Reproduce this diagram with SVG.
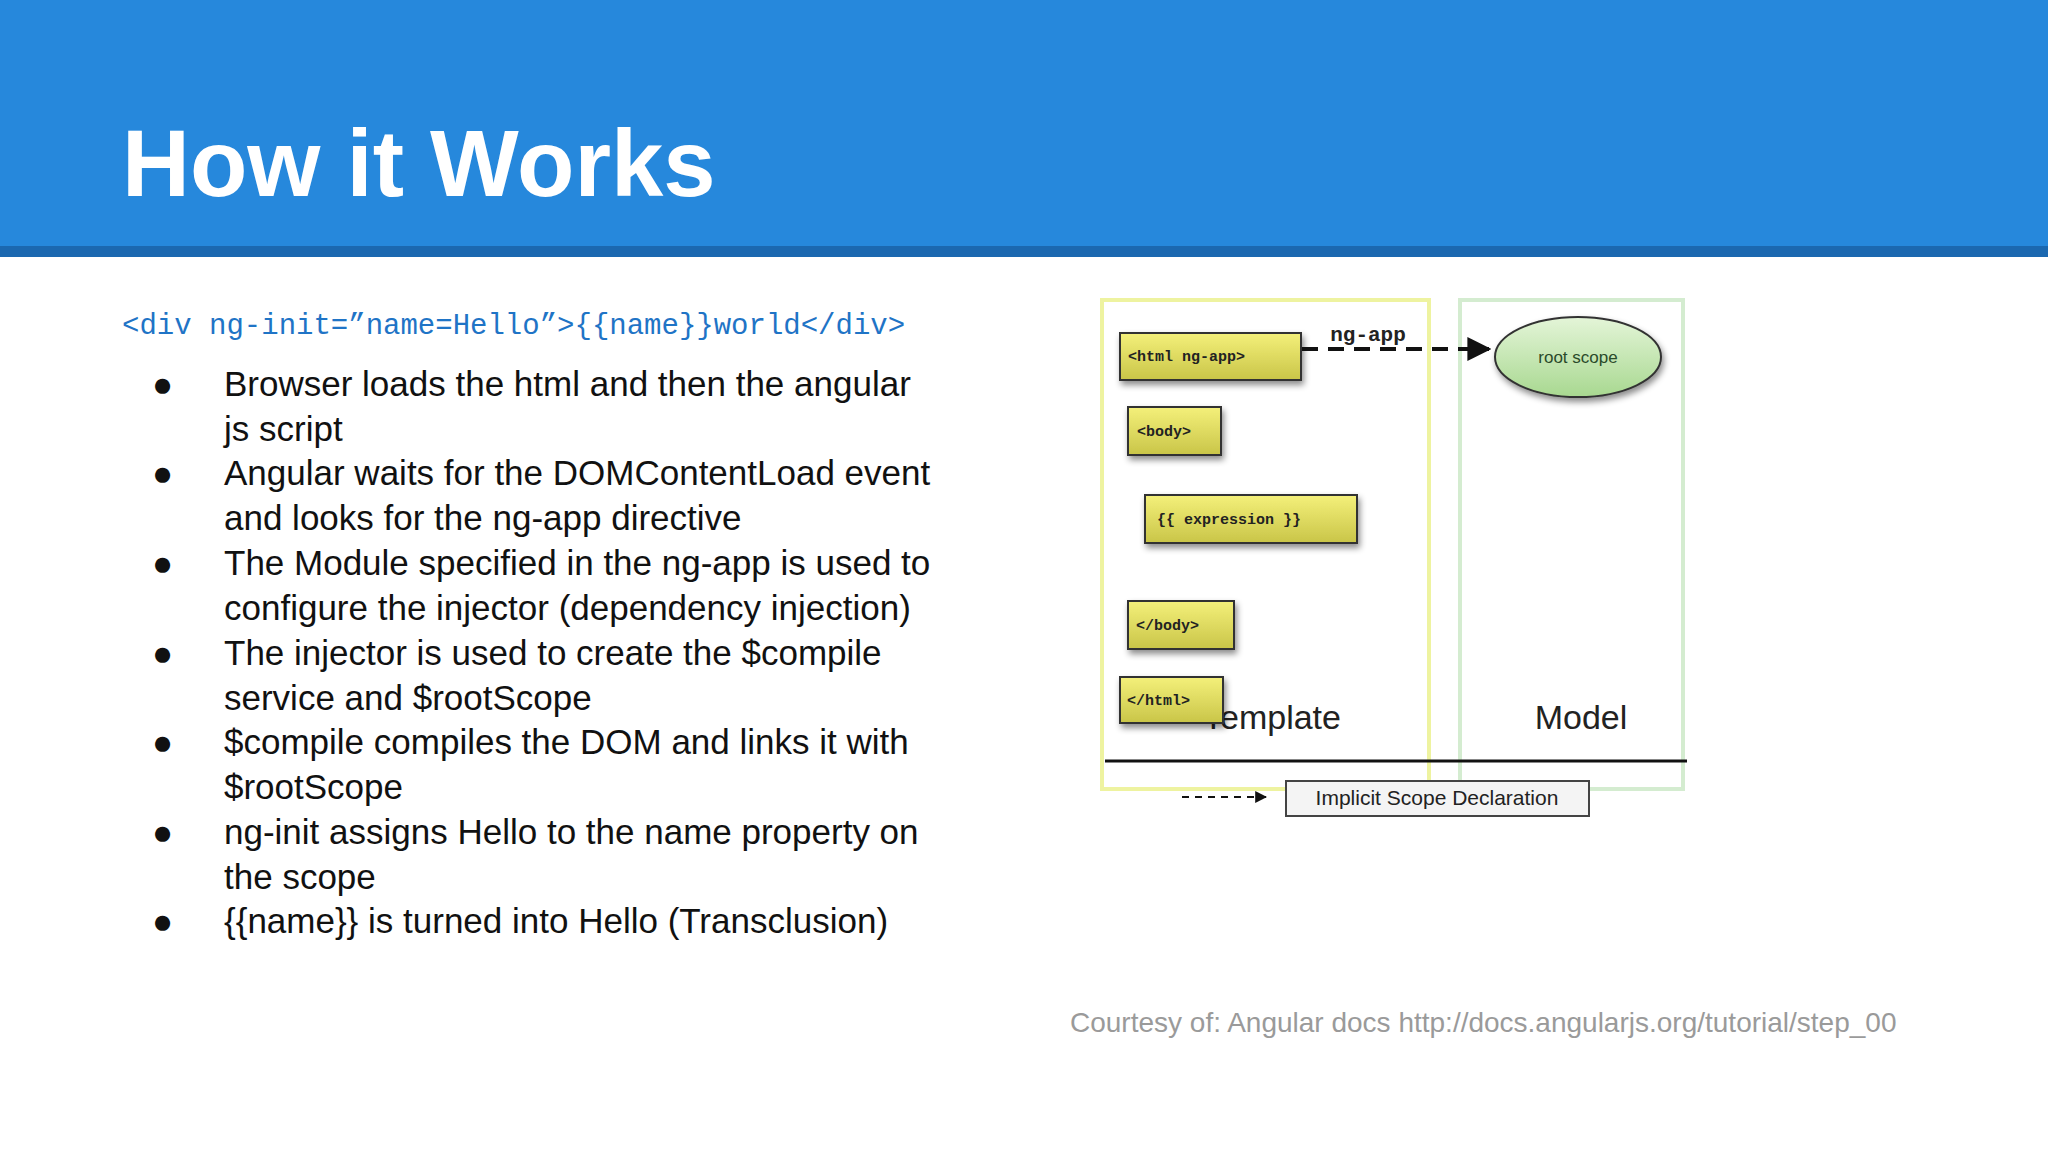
<svg xmlns="http://www.w3.org/2000/svg" width="2048" height="1152" viewBox="0 0 2048 1152">
<defs>
<linearGradient id="yg" x1="0" y1="0" x2="0" y2="1"><stop offset="0" stop-color="#f4f07a"/><stop offset="1" stop-color="#c9c548"/></linearGradient>
<linearGradient id="gg" x1="0" y1="0" x2="0" y2="1"><stop offset="0" stop-color="#e4f5d8"/><stop offset="1" stop-color="#a8d890"/></linearGradient>
<marker id="ah" viewBox="0 0 10 10" refX="9" refY="5" markerWidth="6" markerHeight="6" orient="auto"><path d="M0,0 L10,5 L0,10 z" fill="#111"/></marker>
<filter id="sh" x="-20%" y="-20%" width="150%" height="160%"><feDropShadow dx="2" dy="4" stdDeviation="3" flood-opacity="0.45"/></filter>
</defs>
<style>
.b{font-family:"Liberation Sans",Arial,sans-serif;font-size:35px;fill:#111}
.tag{fill:url(#yg);stroke:#333;stroke-width:2;filter:url(#sh)}
.m{font-family:"Liberation Mono","DejaVu Sans Mono",monospace;font-weight:bold;font-size:15px;fill:#222}
</style>
<rect x="0" y="0" width="2048" height="246" fill="#2688dc"/>
<rect x="0" y="246" width="2048" height="11" fill="#1b68b0"/>
<text x="122" y="196" font-family="Liberation Sans,Arial,sans-serif" font-weight="bold" font-size="94" fill="#fff">How it Works</text>
<text x="122" y="334" font-family="Liberation Mono,DejaVu Sans Mono,monospace" font-size="29" fill="#1f74c6">&lt;div ng-init=”name=Hello”&gt;{{name}}world&lt;/div&gt;</text>
<g class="b">
<text x="152" y="396">●</text><text x="224" y="396">Browser loads the html and then the angular</text>
<text x="224" y="441">js script</text>
<text x="152" y="485">●</text><text x="224" y="485">Angular waits for the DOMContentLoad event</text>
<text x="224" y="530">and looks for the ng-app directive</text>
<text x="152" y="575">●</text><text x="224" y="575">The Module specified in the ng-app is used to</text>
<text x="224" y="620">configure the injector (dependency injection)</text>
<text x="152" y="665">●</text><text x="224" y="665">The injector is used to create the $compile</text>
<text x="224" y="710">service and $rootScope</text>
<text x="152" y="754">●</text><text x="224" y="754">$compile compiles the DOM and links it with</text>
<text x="224" y="799">$rootScope</text>
<text x="152" y="844">●</text><text x="224" y="844">ng-init assigns Hello to the name property on</text>
<text x="224" y="889">the scope</text>
<text x="152" y="933">●</text><text x="224" y="933">{{name}} is turned into Hello (Transclusion)</text>
</g>
<g id="template"><rect x="1102" y="300" width="327" height="489" fill="none" stroke="#eef3a0" stroke-width="4"/>
<text x="1272" y="729" text-anchor="middle" font-family="Liberation Sans,Arial,sans-serif" font-size="34" fill="#222">Template</text></g>
<g id="model"><rect x="1460" y="300" width="223" height="489" fill="none" stroke="#d4ecd0" stroke-width="4"/>
<text x="1581" y="729" text-anchor="middle" font-family="Liberation Sans,Arial,sans-serif" font-size="34" fill="#222">Model</text></g>
<g id="n-html"><rect class="tag" x="1120" y="333" width="181" height="47"/><text class="m" x="1128" y="354" dy="7">&lt;html ng-app&gt;</text></g>
<g id="n-body"><rect class="tag" x="1128" y="407" width="93" height="48"/><text class="m" x="1137" y="431" dy="5">&lt;body&gt;</text></g>
<g id="n-expr"><rect class="tag" x="1145" y="495" width="212" height="48"/><text class="m" x="1157" y="519" dy="5">{{ expression }}</text></g>
<g id="n-ebody"><rect class="tag" x="1128" y="601" width="106" height="48"/><text class="m" x="1136" y="625" dy="5">&lt;/body&gt;</text></g>
<g id="n-ehtml"><rect class="tag" x="1120" y="677" width="103" height="46"/><text class="m" x="1127" y="700" dy="5">&lt;/html&gt;</text></g>
<g id="n-root"><ellipse cx="1578" cy="357" rx="83" ry="40" fill="url(#gg)" stroke="#333" stroke-width="2" filter="url(#sh)"/>
<text x="1578" y="357" dy="6" text-anchor="middle" font-family="Liberation Sans,Arial,sans-serif" font-size="17" fill="#2a4a2a">root scope</text></g>
<g id="connectors">
<line x1="1302" y1="349" x2="1489" y2="349" stroke="#111" stroke-width="4" stroke-dasharray="16,10" marker-end="url(#ah)"/>
<text x="1368" y="341" text-anchor="middle" font-family="Liberation Mono,DejaVu Sans Mono,monospace" font-weight="bold" font-size="21" fill="#222">ng-app</text>
</g>
<line x1="1105" y1="761" x2="1687" y2="761" stroke="#111" stroke-width="3"/>
<g id="legend">
<line x1="1182" y1="797" x2="1266" y2="797" stroke="#111" stroke-width="2" stroke-dasharray="7,6" marker-end="url(#ah)"/>
<rect x="1286" y="781" width="303" height="35" fill="#f4f4f4" stroke="#444" stroke-width="2"/>
<text x="1437" y="805" text-anchor="middle" font-family="Liberation Sans,Arial,sans-serif" font-size="21" fill="#222">Implicit Scope Declaration</text>
</g>
<text x="1070" y="1032" font-family="Liberation Sans,Arial,sans-serif" font-size="28" fill="#9a9a9a">Courtesy of: Angular docs http://docs.angularjs.org/tutorial/step_00</text>
</svg>
